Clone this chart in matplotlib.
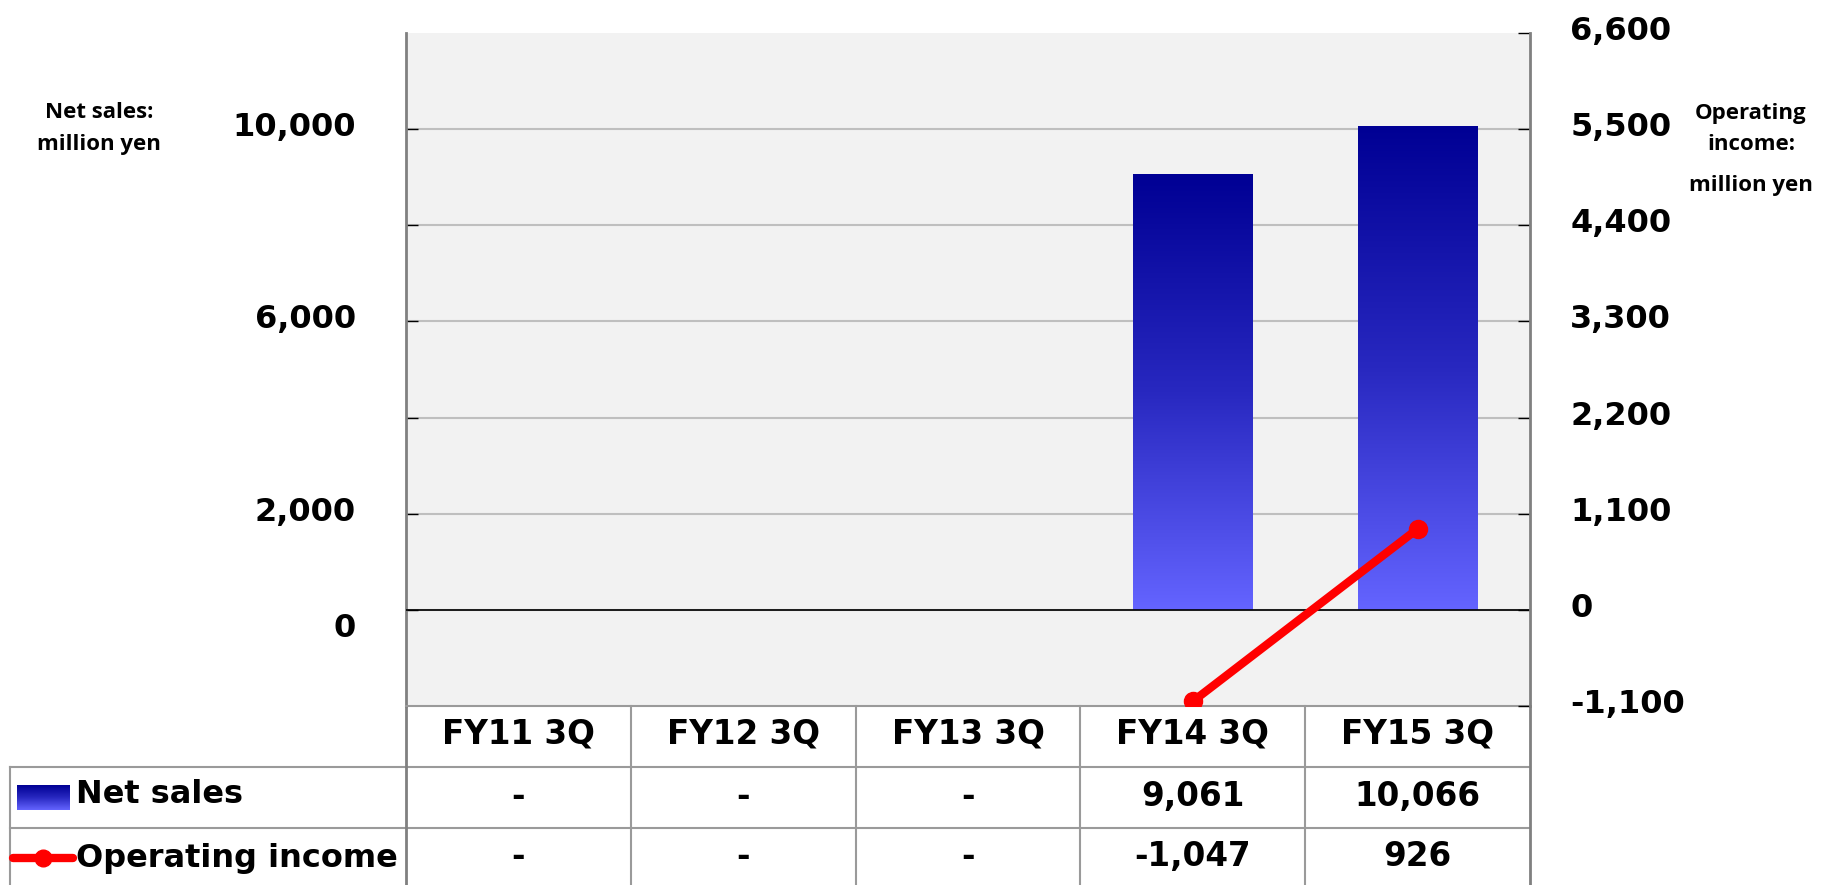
import numpy as np
import matplotlib
matplotlib.use('Agg')
import matplotlib.pyplot as plt
from matplotlib.colors import LinearSegmentedColormap
from matplotlib.lines import Line2D
from matplotlib.transforms import blended_transform_factory, ScaledTranslation

# data
categories = ['FY11 3Q', 'FY12 3Q', 'FY13 3Q', 'FY14 3Q', 'FY15 3Q']
net_sales = [np.nan, np.nan, np.nan, 9061, 10066]
op_income = [np.nan, np.nan, np.nan, -1047, 926]
left_ticks = [0, 2000, 4000, 6000, 8000, 10000]
left_labels = ['0', '2,000', '', '6,000', '', '10,000']
right_ticks = [-1100, 0, 1100, 2200, 3300, 4400, 5500, 6600]

W, H = 1823, 885
def fy(py):
    return 1 - py / H

bar_cmap = LinearSegmentedColormap.from_list('bar', ['#6464ff', '#2828c0', '#000094'])
grad = np.linspace(0, 1, 256).reshape(-1, 1)
grid_gray = '#bfbfbf'
line_gray = '#9a9a9a'
tfs = 23.5  # table font size

fig = plt.figure(figsize=(W / 100, H / 100), dpi=100)
ax = fig.add_axes([406 / W, 1 - 706 / H, 1124 / W, 673 / H])
ax.set_facecolor('#f2f2f2')

x = np.arange(len(categories))
bars = ax.bar(x, np.nan_to_num(net_sales), width=0.53, color='none', zorder=2)
for rect, v in zip(bars, net_sales):
    if np.isnan(v):
        continue
    im = ax.imshow(grad, extent=[rect.get_x(), rect.get_x() + rect.get_width(), 0, v],
                   origin='lower', aspect='auto', cmap=bar_cmap, zorder=2)
    im.set_clip_path(rect)

ax.set_xlim(-0.5, 4.5)
ax.set_ylim(-2000, 12000)
ax.set_yticks(left_ticks)
ax.set_yticklabels(left_labels, fontsize=23, fontweight='bold')
ax.yaxis.grid(True, color=grid_gray, lw=1.5)
ax.set_axisbelow(True)
ax.axhline(0, color='black', lw=1.2, zorder=3)
ax.tick_params(axis='y', direction='in', length=8.6, width=1, color='black', pad=36)
ax.tick_params(axis='x', bottom=False, labelbottom=False)
up = ScaledTranslation(0, 5 / 100, fig.dpi_scale_trans)
for lab in ax.get_yticklabels():
    if lab.get_text() == '0':
        lab.set_transform(lab.get_transform() + ScaledTranslation(0, -15 / 100, fig.dpi_scale_trans))
    else:
        lab.set_transform(lab.get_transform() + up)
ax.spines['top'].set_visible(False)
ax.spines['right'].set_visible(False)
ax.spines['left'].set_color('#808080')
ax.spines['left'].set_linewidth(2)
ax.spines['bottom'].set_color(line_gray)
ax.spines['bottom'].set_linewidth(1.5)

ax2 = ax.twinx()
ax2.plot(x, op_income, color='red', lw=6, marker='o', ms=13, zorder=5, solid_capstyle='round')
ax2.set_ylim(-1100, 6600)
ax2.set_yticks(right_ticks)
ax2.set_yticklabels(['{:,}'.format(t) for t in right_ticks], fontsize=23, fontweight='bold')
ax2.tick_params(axis='y', direction='in', length=8.6, width=1, color='black', pad=29)
for lab in ax2.get_yticklabels():
    lab.set_transform(lab.get_transform() + up)
ax2.spines['top'].set_visible(False)
ax2.spines['left'].set_visible(False)
ax2.spines['bottom'].set_visible(False)
ax2.spines['right'].set_color('#808080')
ax2.spines['right'].set_linewidth(2)

# axis titles
title_kw = dict(ha='center', va='center', fontsize=16, fontweight='bold', family='Open Sans')
fig.text(99 / W, fy(112), 'Net sales:', **title_kw)
fig.text(99 / W, fy(145), 'million yen', **title_kw)
fig.text(1751 / W, fy(113), 'Operating', **title_kw)
fig.text(1751 / W, fy(145), 'income:', **title_kw)
fig.text(1751 / W, fy(185), 'million yen', **title_kw)

# data table under the chart
trans = blended_transform_factory(ax.transData, fig.transFigure)
px_per_cat = 1124 / len(categories)
x_left = -0.5 - (406 - 10) / px_per_cat
kw = dict(transform=trans, clip_on=False, color=line_gray, lw=1.5)
ax.plot([x_left, 4.5], [fy(767), fy(767)], **kw)
ax.plot([x_left, 4.5], [fy(828), fy(828)], **kw)
ax.plot([x_left, x_left], [fy(767), 0], **kw)
for b in np.arange(0.5, 4.5, 1.0):
    ax.plot([b, b], [fy(706), 0], **kw)
ax.plot([-0.5, -0.5], [fy(706), 0], transform=trans, clip_on=False, color='#808080', lw=2)
ax.plot([4.5, 4.5], [fy(706), 0], transform=trans, clip_on=False, color='#808080', lw=2)

def fmt(v):
    return '-' if np.isnan(v) else '{:,}'.format(int(v))

for i, c in enumerate(categories):
    ax.text(i, fy(744), c, transform=trans, ha='center', va='baseline', fontsize=tfs, fontweight='bold')
    ax.text(i, fy(806), fmt(net_sales[i]), transform=trans, ha='center', va='baseline',
            fontsize=tfs, fontweight='bold')
    ax.text(i, fy(866), fmt(op_income[i]), transform=trans, ha='center', va='baseline',
            fontsize=tfs, fontweight='bold')

fig.text(76 / W, fy(803), 'Net sales', ha='left', va='baseline', fontsize=23, fontweight='bold')
fig.text(76 / W, fy(867), 'Operating income', ha='left', va='baseline', fontsize=23, fontweight='bold')

# legend keys
key = fig.add_axes([17 / W, 1 - 810 / H, 53 / W, 25 / H])
key.imshow(grad, origin='lower', aspect='auto', cmap=bar_cmap)
key.axis('off')
fig.add_artist(Line2D([13 / W, 73 / W], [fy(858), fy(858)], color='red', lw=6,
                      solid_capstyle='round', transform=fig.transFigure))
fig.add_artist(Line2D([43 / W], [fy(858)], color='red', marker='o', ms=12,
                      transform=fig.transFigure))

fig.savefig('out.png', dpi=100)
